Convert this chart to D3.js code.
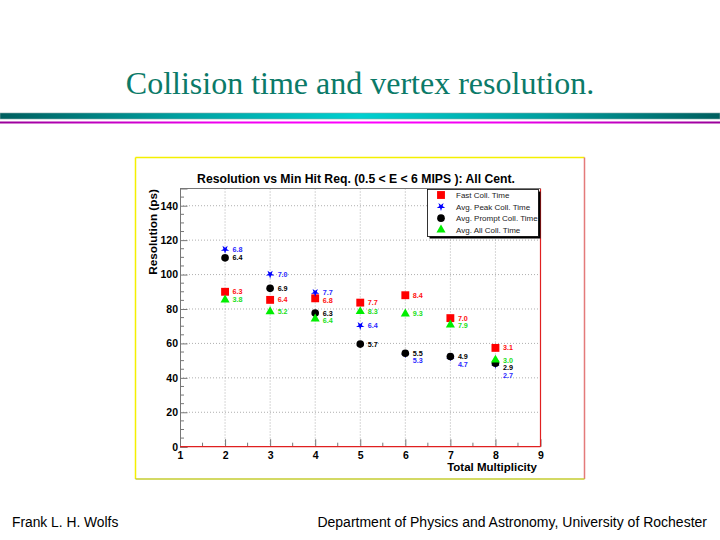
<!DOCTYPE html>
<html>
<head>
<meta charset="utf-8">
<script src="https://cdn.jsdelivr.net/npm/d3@7"></script>
<style>
  body { margin: 0; background: #fff; }
  svg { display: block; }
</style>
</head>
<body>
<div id="slide"><svg></svg></div>
<script>
// values
const multiplicity = [2, 3, 4, 5, 6, 7, 8];
const fastColl = [90, 85.3, 86.2, 83.7, 88, 74.7, 57.4];
const fastLabels = ["6.3", "6.4", "6.8", "7.7", "8.4", "7.0", "3.1"];
const peakColl = [114.6, 100.2, 89.6, 70.3, 54.0, 52.0, 47.8];
const peakLabels = ["6.8", "7.0", "7.7", "6.4", "5.3", "4.7", "2.7"];
const promptColl = [109.7, 92, 77.6, 59.6, 54.3, 52.4, 48.5];
const promptLabels = ["6.4", "6.9", "6.3", "5.7", "5.5", "4.9", "2.9"];
const allColl = [85.3, 78.5, 74.3, 78.6, 77.2, 70.8, 50.4];
const allLabels = ["3.8", "5.2", "6.4", "8.3", "9.3", "7.9", "3.0"];
const seriesNames = ["Fast Coll. Time", "Avg. Peak Coll. Time", "Avg. Prompt Coll. Time", "Avg. All Coll. Time"];
const xTicks = [1, 2, 3, 4, 5, 6, 7, 8, 9];
const yTicks = [0, 20, 40, 60, 80, 100, 120, 140];

const W = 720, H = 540;
const svg = d3.select("#slide svg").attr("width", W).attr("height", H);
const defs = svg.append("defs");

// slide heading
svg.append("text")
  .attr("x", 360).attr("y", 94)
  .attr("text-anchor", "middle")
  .style("font-family", "'Liberation Serif', 'Times New Roman', serif")
  .style("font-size", "32px")
  .attr("fill", "#0b7a68")
  .text("Collision time and vertex resolution.");

const g1 = defs.append("linearGradient").attr("id", "tealBand");
[[0, "#005f5f"], [0.25, "#00a0a0"], [0.5, "#00d0d0"], [0.75, "#00a0a0"], [1, "#005f5f"]]
  .forEach(([o, c]) => g1.append("stop").attr("offset", o).attr("stop-color", c));
const g2 = defs.append("linearGradient").attr("id", "magBand");
[[0, "#990099"], [0.3, "#ee00ee"], [0.5, "#ff00ff"], [0.7, "#ee00ee"], [1, "#990099"]]
  .forEach(([o, c]) => g2.append("stop").attr("offset", o).attr("stop-color", c));

svg.append("rect").attr("x", 0).attr("y", 113).attr("width", W).attr("height", 6)
  .attr("fill", "url(#tealBand)").attr("stroke", "#8aa").attr("stroke-width", 0.6);
svg.append("rect").attr("x", 0).attr("y", 121.5).attr("width", W).attr("height", 2)
  .attr("fill", "url(#magBand)");

// footer
const footFont = "'Liberation Sans', Arial, Helvetica, sans-serif";
svg.append("text").attr("x", 12).attr("y", 527)
  .style("font-family", footFont).style("font-size", "13.8px")
  .text("Frank L. H. Wolfs");
svg.append("text").attr("x", 707).attr("y", 527).attr("text-anchor", "end")
  .style("font-family", footFont).style("font-size", "14px")
  .text("Department of Physics and Astronomy, University of Rochester");

// canvas panel
const panel = { x0: 135.5, y0: 157.5, x1: 584.5, y1: 479 };
svg.append("rect").attr("x", panel.x0).attr("y", panel.y0)
  .attr("width", panel.x1 - panel.x0).attr("height", panel.y1 - panel.y0).attr("fill", "#fff");
const edge = (x1, y1, x2, y2, c) => svg.append("line")
  .attr("x1", x1).attr("y1", y1).attr("x2", x2).attr("y2", y2)
  .attr("stroke", c).attr("stroke-width", 1.5);
edge(panel.x0, panel.y0, panel.x1, panel.y0, "#f4f000");
edge(panel.x0, panel.y0, panel.x0, panel.y1, "#f4f000");
edge(panel.x1, panel.y0, panel.x1, panel.y1, "#e47a7a");
edge(panel.x0, panel.y1, panel.x1, panel.y1, "#c4cc30");

const plot = { left: 180, right: 540.5, top: 188.5, bottom: 446.7 };
const x = d3.scaleLinear().domain([1, 9]).range([plot.left, plot.right]);
const y = d3.scaleLinear().domain([0, 150]).range([plot.bottom, plot.top]);
const bold = "'Liberation Sans', Arial, Helvetica, sans-serif";

// grid
const grid = svg.append("g").attr("stroke", "#9a9a9a").attr("stroke-width", 0.8)
  .attr("stroke-dasharray", "1,2");
grid.selectAll(".gx").data(xTicks.slice(1, -1)).enter().append("line")
  .attr("x1", d => x(d)).attr("x2", d => x(d))
  .attr("y1", plot.top).attr("y2", plot.bottom);
grid.selectAll(".gy").data(yTicks.slice(1)).enter().append("line")
  .attr("x1", plot.left).attr("x2", plot.right)
  .attr("y1", d => y(d)).attr("y2", d => y(d));

// axes
const yAxis = svg.append("g").attr("transform", `translate(${plot.left},0)`)
  .call(d3.axisLeft(y).tickValues(yTicks).tickSize(-7.5).tickPadding(2).tickFormat(d3.format("d")));
yAxis.append("g").selectAll("line").data(d3.range(0, 151, 5).filter(v => v % 20 !== 0)).enter()
  .append("line").attr("x1", 0).attr("x2", 4).attr("y1", d => y(d)).attr("y2", d => y(d));
const xAxis = svg.append("g").attr("transform", `translate(0,${plot.bottom})`)
  .call(d3.axisBottom(x).tickValues(xTicks).tickSize(-7.5).tickPadding(5).tickFormat(d3.format("d")));
xAxis.append("g").selectAll("line").data(d3.range(1.5, 9, 1)).enter()
  .append("line").attr("x1", d => x(d)).attr("x2", d => x(d)).attr("y1", 0).attr("y2", -4);
[yAxis, xAxis].forEach(a => {
  a.selectAll("line").attr("stroke", "#777");
  a.select(".domain").attr("stroke", "#777");
  a.selectAll("text").attr("fill", "#000")
    .style("font-family", bold).style("font-size", "10.5px").style("font-weight", "bold");
});
xAxis.select(".domain").remove();
xAxis.append("line").attr("x1", plot.left).attr("x2", plot.right)
  .attr("stroke", "#e02020").attr("stroke-width", 1.2);
svg.append("line").attr("x1", plot.right).attr("x2", plot.right)
  .attr("y1", plot.top).attr("y2", plot.bottom).attr("stroke", "#e02020").attr("stroke-width", 1.2);
svg.append("line").attr("x1", plot.left).attr("x2", plot.right)
  .attr("y1", plot.top).attr("y2", plot.top).attr("stroke", "#777");

// titles
svg.append("text").attr("x", 356).attr("y", 183).attr("text-anchor", "middle")
  .style("font-family", bold).style("font-size", "12.2px").style("font-weight", "bold")
  .text("Resolution vs Min Hit Req. (0.5 < E < 6 MIPS ): All Cent.");
svg.append("text").attr("transform", `translate(157,189) rotate(-90)`).attr("text-anchor", "end")
  .style("font-family", bold).style("font-size", "11.8px").style("font-weight", "bold")
  .text("Resolution (ps)");
svg.append("text").attr("x", 537).attr("y", 471).attr("text-anchor", "end")
  .style("font-family", bold).style("font-size", "11.5px").style("font-weight", "bold")
  .text("Total Multiplicity");

// series
const series = [
  { name: seriesNames[0], values: fastColl, labels: fastLabels, color: "#ff0000", text: "#ff1010",
    shape: d3.symbolSquare, size: 62, rot: 0 },
  { name: seriesNames[1], values: peakColl, labels: peakLabels, color: "#0000ff", text: "#2a2aff",
    shape: d3.symbolStar, size: 22, rot: 180 },
  { name: seriesNames[2], values: promptColl, labels: promptLabels, color: "#000000", text: "#000",
    shape: d3.symbolCircle, size: 46, rot: 0 },
  { name: seriesNames[3], values: allColl, labels: allLabels, color: "#00ee00", text: "#20e020",
    shape: d3.symbolTriangle, size: 36, rot: 0 }
];

const marks = svg.append("g");
series.forEach(s => {
  marks.selectAll(null).data(multiplicity).enter().append("path")
    .attr("d", d3.symbol().type(s.shape).size(s.size))
    .attr("transform", (d, i) => `translate(${x(d)},${y(s.values[i])}) rotate(${s.rot})`)
    .attr("fill", s.color);
});

// value labels, stacked so they don't overlap within a column
const labelGap = 7.6;
multiplicity.forEach((m, i) => {
  const items = series.map(s => ({ s, py: y(s.values[i]) })).sort((a, b) => a.py - b.py);
  let prev = -Infinity;
  items.forEach(it => {
    const ly = Math.max(it.py, prev + labelGap);
    prev = ly;
    svg.append("text").attr("x", x(m) + 7.5).attr("y", ly + 2.6)
      .style("font-family", bold).style("font-size", "7.2px").style("font-weight", "bold")
      .attr("fill", it.s.text).text(it.s.labels[i]);
  });
});

// legend
const lg = svg.append("g").attr("transform", "translate(427.5,189.5)");
lg.append("rect").attr("x", 2).attr("y", 2).attr("width", 111).attr("height", 47).attr("fill", "#000");
lg.append("rect").attr("width", 111).attr("height", 47).attr("fill", "#fff")
  .attr("stroke", "#000").attr("stroke-width", 0.8);
series.forEach((s, i) => {
  const ry = 5.5 + i * 11.6;
  lg.append("path").attr("d", d3.symbol().type(s.shape).size(s.size))
    .attr("transform", `translate(13.5,${ry}) rotate(${s.rot})`).attr("fill", s.color);
  lg.append("text").attr("x", 28.5).attr("y", ry + 3)
    .style("font-family", bold).style("font-size", "8px").attr("fill", "#222").text(s.name);
});
</script>
</body>
</html>
